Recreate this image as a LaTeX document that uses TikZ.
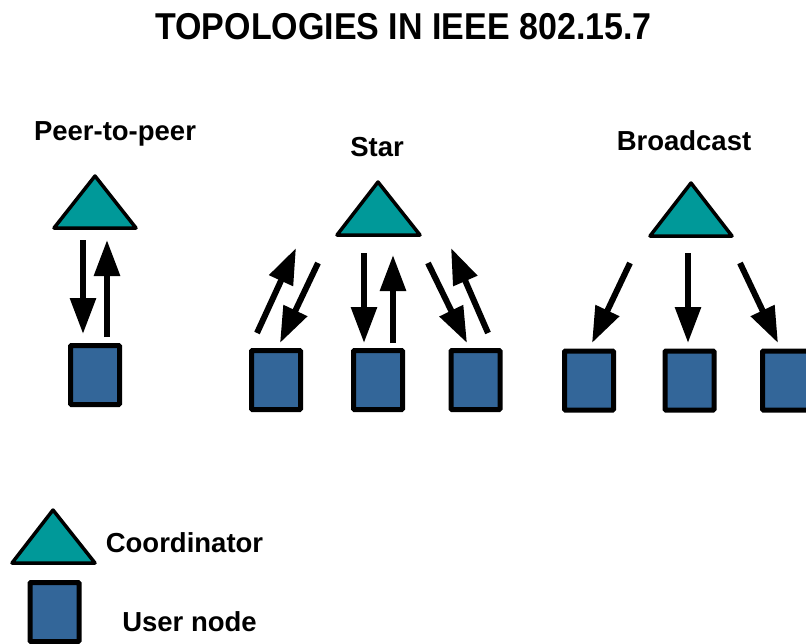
\documentclass[tikz,border=0pt]{standalone}
\usepackage{fontspec}
\setmainfont{Liberation Sans}
\usetikzlibrary{arrows.meta}
\definecolor{coordteal}{RGB}{0,153,153}
\definecolor{userblue}{RGB}{51,102,153}
\begin{document}
\begin{tikzpicture}[x=1pt,y=-1pt,
  coordtri/.style={draw=black,fill=coordteal,line width=3.5pt,line join=round},
  usernode/.style={draw=black,fill=userblue,line width=5pt,rounded corners=1pt,minimum width=49pt,minimum height=59pt,inner sep=0pt},
  flow/.style={line width=6pt,-{Triangle[width=25pt,length=36pt]}},
  lbl/.style={font=\fontsize{27.5}{30}\selectfont\bfseries,inner sep=0pt},
  ttl/.style={font=\fontsize{34}{38}\selectfont\bfseries,inner sep=0pt}]
\useasboundingbox (0,0) rectangle (806,643);
\clip (0,0) rectangle (806,643);
% title
\node[ttl] (title) at (403.5,27) {\scalebox{1}[1.1]{TOPOLOGIES IN IEEE 802.15.7}};
% labels
\node[lbl] (lp2p) at (115,134) {Peer-to-peer};
\node[lbl] (lstar) at (377,147) {Star};
\node[lbl] (lbc) at (684,141) {Broadcast};
\node[lbl] (lcoord) at (184.5,543) {Coordinator};
\node[lbl] (luser) at (189.5,622) {User node};
% coordinators (triangles)
\coordinate (cp) at (95,204);
\draw[coordtri] (95,176) -- (54,228) -- (136,228) -- cycle;
\coordinate (cs) at (378,210);
\draw[coordtri] (378,182) -- (337,235) -- (420,235) -- cycle;
\coordinate (cb) at (691,211);
\draw[coordtri] (691,183) -- (650,236) -- (732,236) -- cycle;
\draw[coordtri] (53,510) -- (12,563) -- (95,563) -- cycle;
% user nodes
\node[usernode] (up) at (95,375) {};
\node[usernode] (us1) at (276,380) {};
\node[usernode] (us2) at (378,380) {};
\node[usernode] (us3) at (475.5,380) {};
\node[usernode] (ub1) at (589,380.5) {};
\node[usernode] (ub2) at (689.5,380.5) {};
\node[usernode] (ub3) at (787,380.5) {};
\node[usernode] (ulg) at (54.5,612) {};
% arrow end coordinates
\coordinate (p1s) at (83,240); \coordinate (p1e) at (83,334);
\coordinate (p2s) at (107,337); \coordinate (p2e) at (107,240);
\coordinate (s1s) at (257,333); \coordinate (s1e) at (296,248);
\coordinate (s2s) at (318,263); \coordinate (s2e) at (280,343);
\coordinate (s3s) at (364,253); \coordinate (s3e) at (364,343);
\coordinate (s4s) at (393,343); \coordinate (s4e) at (393,255);
\coordinate (s5s) at (428,263); \coordinate (s5e) at (467,343);
\coordinate (s6s) at (488,333); \coordinate (s6e) at (451,248);
\coordinate (b1s) at (630,263); \coordinate (b1e) at (592,343);
\coordinate (b2s) at (688,253); \coordinate (b2e) at (688,343);
\coordinate (b3s) at (740,263); \coordinate (b3e) at (778,343);
\foreach \a in {p1,p2,s1,s2,s3,s4,s5,s6,b1,b2,b3}
  \draw[flow] (\a s) -- (\a e);
\end{tikzpicture}
\end{document}
